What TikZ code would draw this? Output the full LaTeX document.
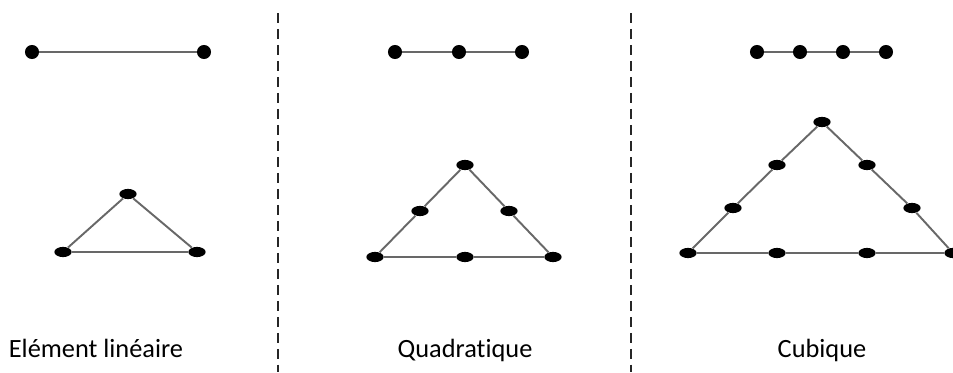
\documentclass[tikz,border=0pt]{standalone}
\usepackage{fontspec}
\setmainfont{Carlito}[Ligatures=NoCommon]
\usetikzlibrary{positioning,shapes.geometric}
\definecolor{edge}{HTML}{686868}

\tikzset{
  bigdot/.style={circle,fill=black,inner sep=0pt,minimum size=8pt},
  flatdot/.style={ellipse,fill=black,inner sep=0pt,minimum width=9.8pt,minimum height=5.8pt},
  bar/.style={edge,line width=1.1pt},
  caption/.style={font=\fontsize{15}{18}\selectfont,anchor=base}
}

\begin{document}
\begin{tikzpicture}[x=0.02cm,y=-0.02cm]
  \useasboundingbox (0,0) rectangle (953,372);

  % Separators
  \draw[black!85,line width=1.1pt,dash pattern=on 5.7pt off 3.4pt] (278,13) -- (278,372);
  \draw[black!85,line width=1.1pt,dash pattern=on 5.7pt off 3.4pt] (631,13) -- (631,372);

  % Linear element
  \node[bigdot] (la) at (32,52) {};
  \node[bigdot] (lb) at (204,52) {};
  \draw[bar] (la) -- (lb);

  \node[flatdot] (lt1) at (128,194) {};
  \node[flatdot] (lt2) at (63,252) {};
  \node[flatdot] (lt3) at (197,252) {};
  \draw[bar] (lt1) -- (lt2) -- (lt3) -- (lt1);

  % Quadratic element
  \node[bigdot] (qa) at (395,52) {};
  \node[bigdot] (qb) at (459,52) {};
  \node[bigdot] (qc) at (522,52) {};
  \draw[bar] (qa) -- (qb) -- (qc);

  \node[flatdot] (qt1) at (465,165) {};
  \node[flatdot] (qt2) at (420,211) {};
  \node[flatdot] (qt3) at (375,257) {};
  \node[flatdot] (qt4) at (465,257) {};
  \node[flatdot] (qt5) at (553,257) {};
  \node[flatdot] (qt6) at (509,211) {};
  \draw[bar] (qt1) -- (qt2) -- (qt3) -- (qt4) -- (qt5) -- (qt6) -- (qt1);

  % Cubic element
  \node[bigdot] (ca) at (757,52) {};
  \node[bigdot] (cb) at (800,52) {};
  \node[bigdot] (cc) at (843,52) {};
  \node[bigdot] (cd) at (886,52) {};
  \draw[bar] (ca) -- (cb) -- (cc) -- (cd);

  \node[flatdot] (ct1) at (822,122) {};
  \node[flatdot] (ct2) at (777,165) {};
  \node[flatdot] (ct3) at (733,208) {};
  \node[flatdot] (ct4) at (688,253) {};
  \node[flatdot] (ct5) at (777,253) {};
  \node[flatdot] (ct6) at (867,253) {};
  \node[flatdot] (ct7) at (953,253) {};
  \node[flatdot] (ct8) at (912,208) {};
  \node[flatdot] (ct9) at (867,165) {};
  \draw[bar] (ct1) -- (ct2) -- (ct3) -- (ct4) -- (ct5) -- (ct6) -- (ct7) -- (ct8) -- (ct9) -- (ct1);

  % Captions
  \node[caption] (cap1) at (96,357) {Elément linéaire};
  \node[caption] (cap2) at (465,357) {Quadratique};
  \node[caption] (cap3) at (822,357) {Cubique};
\end{tikzpicture}
\end{document}
